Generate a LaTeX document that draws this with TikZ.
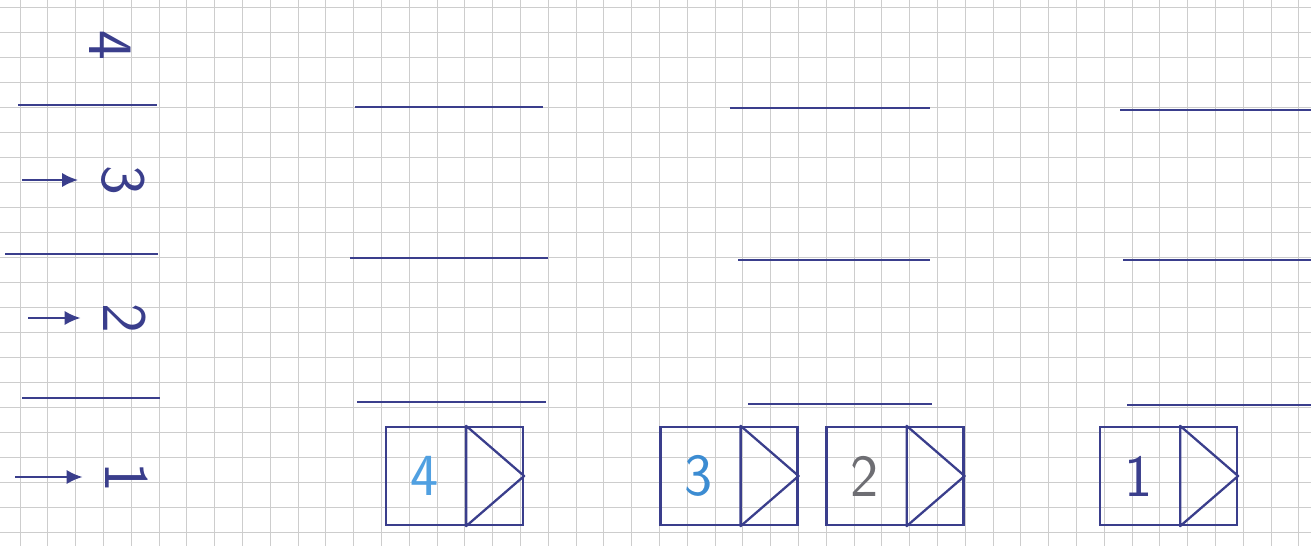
\documentclass[tikz,border=0pt]{standalone}
\usepackage{fontspec}
\usepackage{tikz}
\usetikzlibrary{arrows.meta,positioning,calc}
\definecolor{ink}{RGB}{58,62,140}
\definecolor{pen}{RGB}{60,140,210}
\definecolor{paleblue}{RGB}{80,160,225}
\definecolor{pencil}{RGB}{110,110,115}
\definecolor{gridgray}{RGB}{205,205,205}

\begin{document}
\begin{tikzpicture}[x=0.02cm,y=-0.02cm,
    gridline/.style={gridgray,line width=0.55pt},
    floor/.style={ink,line width=1.1pt},
    lift/.style={ink,line width=1.1pt,-{Latex[length=9pt,width=8pt]},shorten >=13pt},
    car/.style={draw=ink,line width=1.3pt,minimum width=2.74cm,minimum height=1.96cm,inner sep=0pt},
    floornum/.style={font=\sffamily\fontsize{36}{36}\selectfont,text=ink,rotate=-90,inner sep=0pt},
    carnum/.style={font=\sffamily\fontsize{34}{34}\selectfont,inner sep=0pt}]
    \useasboundingbox (0,0) rectangle (1311,546);
    \fill[white] (0,0) rectangle (1311,546);
    \begin{scope}
    \clip (0,0) rectangle (1311,546);
    % grid paper
    \foreach \i in {0,...,46}
      \draw[gridline] ({20+27.8*\i},0) -- ({20+27.8*\i},546);
    \foreach \j in {0,...,21}
      \draw[gridline] (0,{7+25*\j}) -- (1311,{7+25*\j});
    \end{scope}

    % floors
    \draw[floor] (18,105)--(157,105) (355,107)--(543,107) (730,108)--(930,108) (1120,110)--(1311,110);
    \draw[floor] (5,254)--(158,254) (350,258)--(548,258) (738,260)--(930,260) (1123,260)--(1311,260);
    \draw[floor] (22,398)--(160,398) (357,402)--(546,402) (748,404)--(932,404) (1127,405)--(1311,405);

    % floor numbers and calls
    \node[floornum] (f4) at (110,45) {4};
    \node[floornum] (f3) at (123,180) {3};
    \node[floornum] (f2) at (125,318) {2};
    \node[floornum] (f1) at (127,477) {1};
    \coordinate (a3) at (22,180);
    \coordinate (a2) at (28,318);
    \coordinate (a1) at (15,477);
    \draw[lift] (a3) -- (f3);
    \draw[lift] (a2) -- (f2);
    \draw[lift] (a1) -- (f1);

    % cars
    \foreach \n/\cx/\d/\c in {c4/454.5/4/paleblue, c3/729/3/pen, c2/895/2/pencil, c1/1168.5/1/ink}{
      \node[car] (\n) at (\cx,476) {};
      \draw[ink,line width=1.3pt,line join=round] ($(\n.north east)+(-58,0)$) -- ($(\n.south east)+(-58,0)$) -- (\n.east) -- cycle;
      \node[carnum,text=\c] (\n-num) at ($(\n.west)+(39.5,0)$) {\d};
    }
  \end{tikzpicture}
\end{document}
